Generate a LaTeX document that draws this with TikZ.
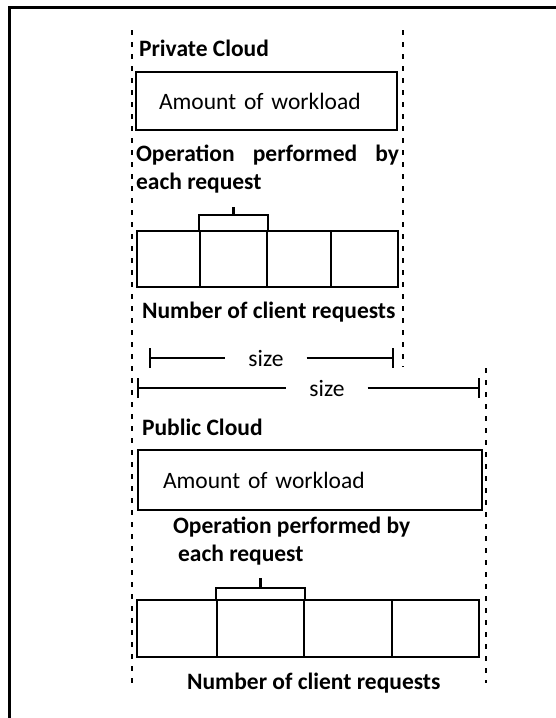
\documentclass[tikz,border=0pt]{standalone}
\usepackage{fontspec}
\setmainfont{Carlito}

\begin{document}
\begin{tikzpicture}[x=1pt,y=-1pt,line width=2.2pt,
  txt/.style={font=\fontsize{23.5}{28}\selectfont, inner sep=0pt},
  lbl/.style={inner sep=0pt, font=\fontsize{23.5}{28}\selectfont\bfseries},
  box/.style={draw, txt, minimum height=58pt, align=left},
  cell/.style={draw, inner sep=0pt},
  fence/.style={line width=2.6pt, dash pattern=on 5pt off 7pt},
  sizelbl/.style={txt, inner xsep=22pt}]
  \useasboundingbox (0,0) rectangle (556,718);
  \draw[line width=3pt] (9,718) -- (9,7) -- (556,7);

  \draw[fence] (132,30) -- (132,683);
  \draw[fence] (403,30) -- (403,367);
  \draw[fence] (486,368) -- (486,683);

  \node[lbl, anchor=west] (privlbl) at (138,48) {Private Cloud};
  \node[box, anchor=west, inner xsep=23pt, text width=215pt] (privwork) at (135,101) {Amount of workload};
  \node[lbl, anchor=west, align=left] (privop) at (135,169) {\makebox[263pt][s]{Operation performed by}\\each request};
  \foreach \l/\r [count=\i] in {137/200,200/267,267/331,331/398}
    \node[cell, minimum width={(\r-\l)*1pt}, minimum height=56pt] (privc\i) at ({(\l+\r)/2},259) {};
  \draw (privc2.north west) -- ++(0,-15) -| (privc2.north east);
  \draw (privc2.north) ++(0,-15) -- ++(0,-8);
  \node[lbl, anchor=west] (privnum) at (141,312) {Number of client requests};

  \node[sizelbl] (privsize) at (266,358) {size};
  \coordinate (privl) at (150,358);
  \coordinate (privr) at (393,358);
  \draw (privl) -- (privsize) -- (privr);
  \draw (privl) ++(0,-10) -- ++(0,20);
  \draw (privr) ++(0,-10) -- ++(0,20);

  \node[sizelbl] (pubsize) at (327,388) {size};
  \coordinate (publ) at (138,388);
  \coordinate (pubr) at (479,388);
  \draw (publ) -- (pubsize) -- (pubr);
  \draw (publ) ++(0,-10) -- ++(0,20);
  \draw (pubr) ++(0,-10) -- ++(0,20);

  \node[lbl, anchor=west] (publbl) at (141,427) {Public Cloud};
  \node[box, anchor=west, inner xsep=25pt, text width=294pt, minimum height=60pt] (pubwork) at (137,480) {Amount of workload};
  \node[lbl, anchor=west, align=left] (pubop) at (172,541) {Operation performed by\\\hspace{5pt}each request};
  \foreach \l/\r [count=\i] in {137/217,217/304,304/392,392/479}
    \node[cell, minimum width={(\r-\l)*1pt}, minimum height=57pt] (pubc\i) at ({(\l+\r)/2},628.5) {};
  \draw (pubc2.north west) -- ++(0,-11) -| (pubc2.north east);
  \draw (pubc2.north) ++(0,-11) -- ++(0,-10);
  \node[lbl, anchor=west] (pubnum) at (186,683) {Number of client requests};
\end{tikzpicture}
\end{document}
